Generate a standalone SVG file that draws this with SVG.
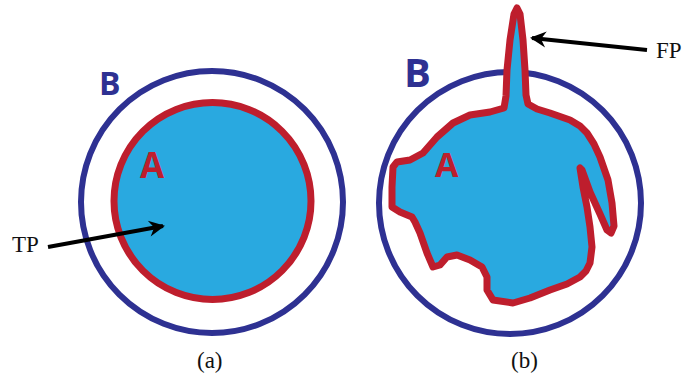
<svg xmlns="http://www.w3.org/2000/svg" width="687" height="376" viewBox="0 0 687 376">
<style>
.ring{fill:none;stroke:#2e3192;stroke-width:6}
.cell{fill:#29a9e0;stroke:#be1e2d;stroke-width:7;stroke-linejoin:round}
.lb{font-family:"Open Sans",sans-serif;font-weight:700;fill:#2e3192}
.la{font-family:"Open Sans",sans-serif;font-weight:700;fill:#be1e2d}
.t{font-family:"Liberation Serif",serif;fill:#111;font-size:23px}
.c{font-family:"Liberation Serif",serif;fill:#111;font-size:23px}
.arr{stroke:#000;stroke-width:4;fill:none}
</style>
<defs>
<marker id="ah" markerUnits="userSpaceOnUse" markerWidth="20" markerHeight="20" viewBox="-16 -10 20 20" refX="0" refY="0" orient="auto">
<path d="M2,0 L-14,-8 L-9,0 L-14,8 Z" fill="#000"/>
</marker>
</defs>
<rect width="687" height="376" fill="#fff"/>
<g id="fig-a">
<circle class="ring" cx="212" cy="202" r="131"/>
<circle class="cell" cx="212.5" cy="201" r="98.5"/>
<text class="lb" x="99" y="95" font-size="32">B</text>
<text class="la" x="140" y="178" font-size="35">A</text>
<text class="t" x="12" y="252">TP</text>
<text class="c" x="197" y="368">(a)</text>
</g>
<g id="fig-b">
<circle class="ring" cx="510" cy="203" r="131"/>
<path class="cell" d="M517,8 L520,14 L523,40 L525,70 L526,95 L528,104 L537,109 L550,113 L570,120 L580,126 L587,133 L594,144 L600,157 L608,180 L612,203 L614,226 L611,233 L607,230 L600,214 L590,192 L582,170 L580,168 L583,187 L587,207 L590,227 L592,247 L590,263 L586,271 L580,277 L567,284 L550,290 L530,298 L513,303 L493,300 L487,290 L487,277 L482,267 L470,260 L457,255 L447,257 L440,265 L433,267 L427,253 L420,233 L415,222 L412,217 L400,212 L392,207 L392,187 L393,167 L397,162 L410,160 L423,153 L430,145 L437,137 L453,123 L470,115 L490,112 L504,108 L506,96 L507,70 L510,40 L514,14 Z"/>
<text class="lb" x="404" y="87" font-size="40">B</text>
<text class="la" x="435" y="177" font-size="34">A</text>
<text class="t" x="656" y="58">FP</text>
<text class="c" x="511" y="368">(b)</text>
</g>
<g id="connectors">
<line class="arr" x1="48" y1="247" x2="163" y2="226" marker-end="url(#ah)"/>
<line class="arr" x1="647" y1="50" x2="532" y2="38" marker-end="url(#ah)"/>
</g>
</svg>
